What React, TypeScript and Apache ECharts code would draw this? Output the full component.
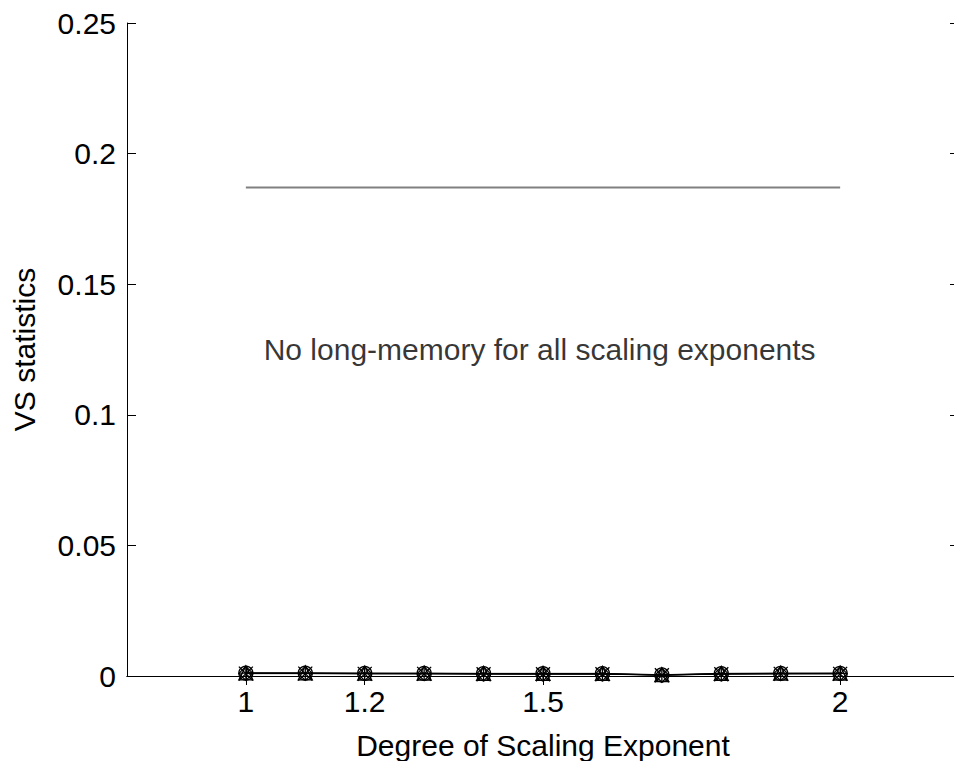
import React, { useEffect, useRef } from "react";
import * as echarts from "echarts";

const xValues = [1, 1.1, 1.2, 1.3, 1.4, 1.5, 1.6, 1.7, 1.8, 1.9, 2];
const seriesCircle = [0.0011, 0.0011, 0.001, 0.001, 0.0009, 0.0009, 0.0009, 0.0004, 0.0009, 0.001, 0.001];
const seriesTriangle = [0.0012, 0.0012, 0.0011, 0.0011, 0.001, 0.001, 0.001, 0.0005, 0.001, 0.0011, 0.0011];
const seriesDiamond = [0.001, 0.001, 0.0009, 0.0009, 0.0008, 0.0008, 0.0008, 0.0003, 0.0008, 0.0009, 0.0009];
const seriesPlus = [0.0011, 0.001, 0.001, 0.0009, 0.0009, 0.0008, 0.0008, 0.0004, 0.0008, 0.0009, 0.001];
const seriesCross = [0.0009, 0.0009, 0.0008, 0.0008, 0.0007, 0.0007, 0.0007, 0.0003, 0.0007, 0.0008, 0.0008];
const thresholdX = [1, 2];
const thresholdValue = 0.187;
const xTickValues = [1, 1.2, 1.5, 2];
const annotation = { x: 1.03, y: 0.125, text: "No long-memory for all scaling exponents" };
const xAxisTitle = "Degree of Scaling Exponent";
const yAxisTitle = "VS statistics";

const FONT = "'Liberation Sans', Arial, Helvetica, sans-serif";

export default function App() {
  const ref = useRef<HTMLDivElement>(null);
  useEffect(() => {
    document.body.style.margin = "0";
    const chart = echarts.init(ref.current!, null, { renderer: "svg" });
    const pair = (ys: number[]) => xValues.map((x, i) => [x, ys[i]]);
    const markerSeries = (name: string, symbol: string, ys: number[]) => ({
      name,
      type: "line",
      data: pair(ys),
      symbol,
      symbolSize: 14,
      showSymbol: true,
      lineStyle: { color: "#000", width: 1 },
      itemStyle: { color: "transparent", borderColor: "#000", borderWidth: 1.3 },
      z: 5,
    });
    chart.setOption({
      animation: false,
      backgroundColor: "#fff",
      textStyle: { fontFamily: FONT },
      grid: { left: 127, top: 23, width: 832, height: 653, show: false, outerBoundsMode: "none", containLabel: false },
      xAxis: [
        {
          type: "value",
          min: 0.8,
          max: 2.2,
          position: "bottom",
          name: xAxisTitle,
          nameLocation: "middle",
          nameGap: 54,
          nameTextStyle: { fontSize: 30, color: "#000", fontFamily: FONT },
          axisLine: { show: true, lineStyle: { color: "#000", width: 1 } },
          axisTick: { show: true, inside: true, length: 9, customValues: xTickValues, lineStyle: { color: "#000" } },
          axisLabel: {
            show: true,
            customValues: xTickValues,
            fontSize: 30,
            color: "#000",
            fontFamily: FONT,
            margin: 10,
            formatter: (v: number) => String(v),
          },
          splitLine: { show: false },
        },
        {
          type: "value",
          min: 0.8,
          max: 2.2,
          position: "top",
          axisLine: { show: true, lineStyle: { color: "#000", width: 1 } },
          axisTick: { show: true, inside: true, length: 9, customValues: xTickValues, lineStyle: { color: "#000" } },
          axisLabel: { show: false },
          splitLine: { show: false },
        },
      ],
      yAxis: [
        {
          type: "value",
          min: 0,
          max: 0.25,
          interval: 0.05,
          position: "left",
          name: yAxisTitle,
          nameLocation: "middle",
          nameGap: 88,
          nameTextStyle: { fontSize: 30, color: "#000", fontFamily: FONT },
          axisLine: { show: true, lineStyle: { color: "#000", width: 1 } },
          axisTick: { show: true, inside: true, length: 9, lineStyle: { color: "#000" } },
          axisLabel: { fontSize: 30, color: "#000", fontFamily: FONT, margin: 11 },
          splitLine: { show: false },
        },
        {
          type: "value",
          min: 0,
          max: 0.25,
          interval: 0.05,
          position: "right",
          axisLine: { show: true, lineStyle: { color: "#000", width: 1 } },
          axisTick: { show: true, inside: true, length: 9, lineStyle: { color: "#000" } },
          axisLabel: { show: false },
          splitLine: { show: false },
        },
      ],
      series: [
        {
          name: "threshold",
          type: "line",
          data: thresholdX.map((x) => [x, thresholdValue]),
          symbol: "none",
          lineStyle: { color: "#808080", width: 2 },
          z: 3,
        },
        markerSeries("circle", "circle", seriesCircle),
        markerSeries("triangle", "triangle", seriesTriangle),
        markerSeries("diamond", "diamond", seriesDiamond),
        markerSeries("plus", "path://M0,-1L0,1M-1,0L1,0", seriesPlus),
        markerSeries("cross", "path://M-1,-1L1,1M-1,1L1,-1", seriesCross),
        {
          name: "annotation",
          type: "scatter",
          data: [[annotation.x, annotation.y]],
          symbolSize: 0,
          silent: true,
          label: {
            show: true,
            position: "inside",
            align: "left",
            verticalAlign: "middle",
            formatter: () => annotation.text,
            fontSize: 30,
            color: "#000",
            fontFamily: FONT,
          },
        },
      ],
    });
    return () => chart.dispose();
  }, []);
  return <div ref={ref} style={{ width: 954, height: 761 }} />;
}
